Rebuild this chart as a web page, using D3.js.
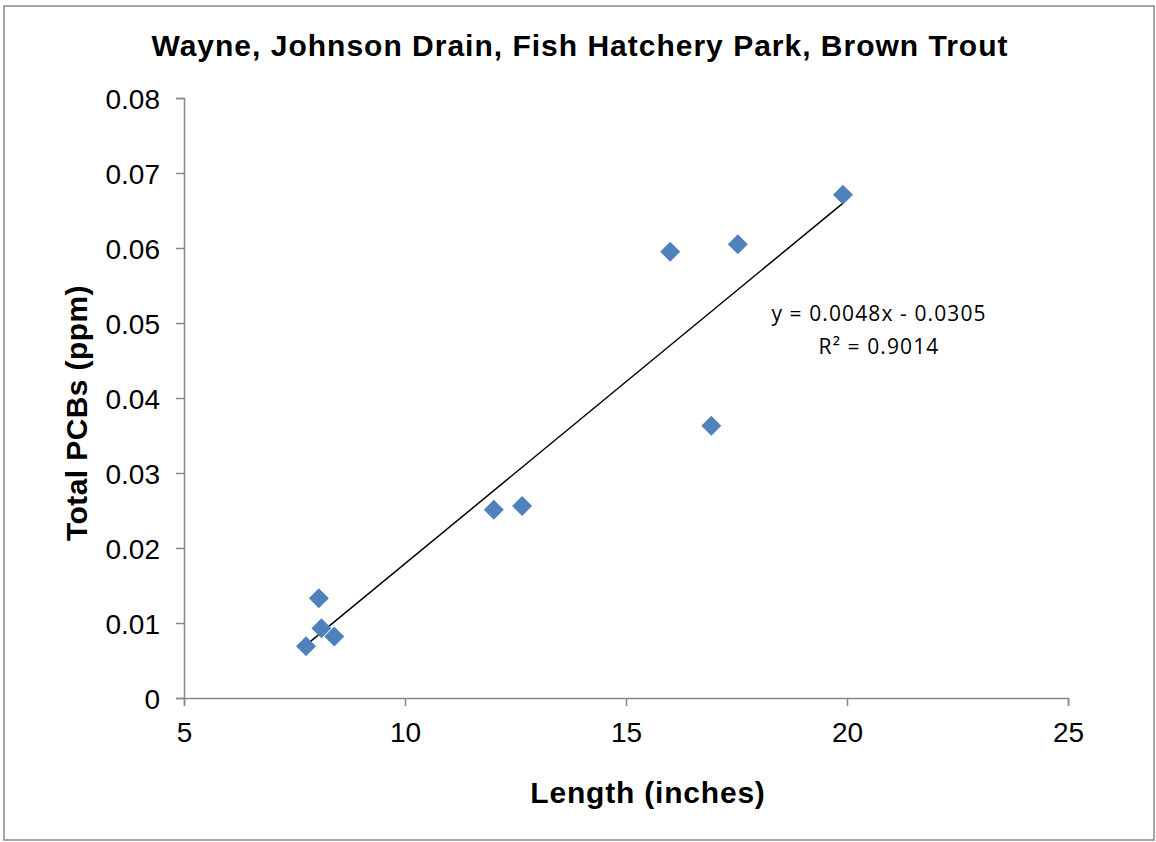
<!DOCTYPE html>
<html><head><meta charset="utf-8">
<script src="https://cdn.jsdelivr.net/npm/d3@7"></script>
<style>body{margin:0;background:#fff}svg{display:block}</style>
</head><body>
<script>
const title = "Wayne, Johnson Drain, Fish Hatchery Park, Brown Trout";
const lengths = [7.76, 8.05, 8.11, 8.40, 12.01, 12.65, 16.0, 16.93, 17.53, 19.91];
const pcbs = [0.0069, 0.0133, 0.0093, 0.0082, 0.0251, 0.0256, 0.0595, 0.0363, 0.0605, 0.0671];
const xTicks = [5, 10, 15, 20, 25];
const yTicks = [0, 0.01, 0.02, 0.03, 0.04, 0.05, 0.06, 0.07, 0.08];
const eqLines = ["y = 0.0048x - 0.0305", "R² = 0.9014"];

const W = 1156, H = 842;
const svg = d3.select("body").append("svg").attr("width", W).attr("height", H);
svg.append("rect").attr("x", 4).attr("y", 6).attr("width", 1150).attr("height", 834)
  .attr("fill", "#fff").attr("stroke", "#888").attr("stroke-width", 1.5);

const x = d3.scaleLinear().domain([5, 25]).range([184, 1068]);
const y = d3.scaleLinear().domain([0, 0.08]).range([698, 98]);

const font = "'Liberation Sans', Arial, sans-serif";
const axisColor = "#888";

// axes
const gx = svg.append("g").attr("transform", "translate(0,698)")
  .call(d3.axisBottom(x).tickValues(xTicks).tickSize(8).tickPadding(16).tickFormat(d3.format("d")));
const gy = svg.append("g").attr("transform", "translate(184,0)")
  .call(d3.axisLeft(y).tickValues(yTicks).tickSize(8).tickPadding(16).tickFormat(d => d === 0 ? "0" : d3.format(".2f")(d)));
[gx, gy].forEach(g => {
  g.select(".domain").attr("stroke", axisColor).attr("stroke-width", 1.5);
  g.selectAll(".tick line").attr("stroke", axisColor).attr("stroke-width", 1.5);
  g.selectAll(".tick text").attr("fill", "#000").style("font-family", font).style("font-size", "28px");
});
gy.selectAll(".tick text").attr("dy", "0.36em");

// least-squares trendline from the data
const mx = d3.mean(lengths), my = d3.mean(pcbs);
const sxy = d3.sum(lengths, (l, i) => (l - mx) * (pcbs[i] - my));
const sxx = d3.sum(lengths, l => (l - mx) * (l - mx));
const slope = sxy / sxx, intercept = my - slope * mx;
const xr = d3.extent(lengths);
svg.append("line")
  .attr("x1", x(xr[0])).attr("y1", y(slope * xr[0] + intercept))
  .attr("x2", x(xr[1])).attr("y2", y(slope * xr[1] + intercept))
  .attr("stroke", "#000").attr("stroke-width", 1.5);

// points
const pts = lengths.map((l, i) => [l, pcbs[i]]);
svg.append("g").selectAll("path").data(pts).join("path")
  .attr("transform", d => `translate(${x(d[0])},${y(d[1])})`)
  .attr("d", "M0,-10L10,0L0,10L-10,0Z")
  .attr("fill", "#4F81BD");

// title
svg.append("text").attr("x", 580).attr("y", 56).attr("text-anchor", "middle")
  .style("font-family", font).style("font-size", "30px").style("font-weight", "bold")
  .style("letter-spacing", "1px").text(title);

// axis titles
svg.append("text").attr("x", 648).attr("y", 803).attr("text-anchor", "middle")
  .style("font-family", font).style("font-size", "30px").style("font-weight", "bold")
  .style("letter-spacing", "0.8px").text("Length (inches)");
svg.append("text").attr("transform", "translate(87,413) rotate(-90)").attr("text-anchor", "middle")
  .style("font-family", font).style("font-size", "30px").style("font-weight", "bold")
  .style("letter-spacing", "0.4px").text("Total PCBs (ppm)");

// equation
svg.append("g").selectAll("text").data(eqLines).join("text")
  .attr("x", 879).attr("y", (d, i) => 321 + i * 33).attr("text-anchor", "middle")
  .style("font-family", "'Open Sans', 'Noto Sans', sans-serif").style("font-size", "21px")
  .style("letter-spacing", "1.1px").text(d => d);
</script>
</body></html>
